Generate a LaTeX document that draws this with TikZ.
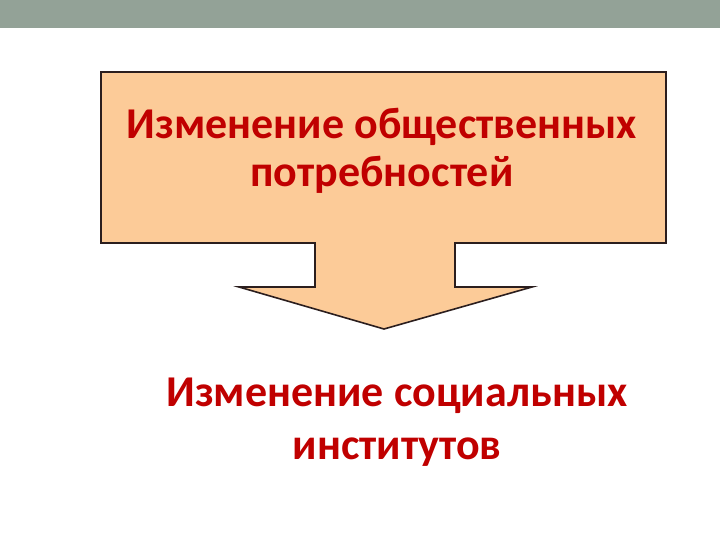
\documentclass[tikz,border=0pt]{standalone}
\usepackage{fontspec}
\setmainfont{Carlito}
\definecolor{barcol}{HTML}{93A297}
\definecolor{peach}{HTML}{FCCB98}
\definecolor{edgecol}{HTML}{2B1E1E}
\definecolor{txtred}{HTML}{C00000}
\tikzset{
  lbl/.style={text=txtred, font=\bfseries\fontsize{44}{48}\selectfont, align=center},
}
\begin{document}
\begin{tikzpicture}[x=1pt,y=-1pt]
\useasboundingbox (0,0) rectangle (720,540);
\fill[white] (0,0) rectangle (720,540);
\fill[barcol] (0,0) rectangle (720,28);
\draw[edgecol, line width=1.6pt, fill=peach, line join=miter]
  (101,72) -- (666,72) -- (666,243) -- (455,243) -- (455,287) -- (532,287)
  -- (384,329) -- (239,287) -- (315,287) -- (315,243) -- (101,243) -- cycle;
\node[lbl] (top) at (382,151) {Изменение общественных\\потребностей};
\node[lbl, font=\bfseries\fontsize{44}{53}\selectfont] (bot) at (397,422) {Изменение социальных\\институтов};
\end{tikzpicture}
\end{document}
